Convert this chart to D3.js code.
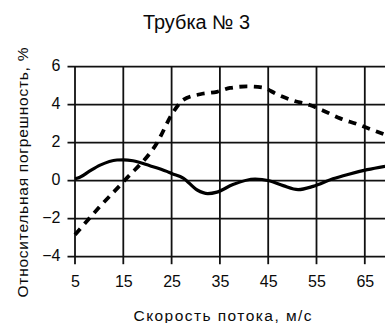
<!DOCTYPE html>
<html>
<head>
<meta charset="utf-8">
<script src="https://cdn.jsdelivr.net/npm/d3@7"></script>
<style>
  html, body { margin: 0; padding: 0; background: #fff; }
  svg { display: block; font-family: "Liberation Sans", Arial, sans-serif; }
</style>
</head>
<body>
<svg id="chart" width="385" height="323"></svg>
<script>
// Flow speed, m/s, and relative error, %, for two measurement runs
const solidSpeed = [5, 6, 8, 10.2, 13.7, 15, 17, 20.5, 24, 25, 27.4, 30.3, 32.5, 34.4, 37.7, 42.3, 45.2, 48.1, 51.2, 54.3, 58.4, 61.5, 65.5, 69.2];
const solidError = [0.1, 0.18, 0.5, 0.82, 1.09, 1.1, 1.05, 0.79, 0.49, 0.38, 0.14, -0.49, -0.68, -0.6, -0.2, 0.09, 0.0, -0.26, -0.47, -0.3, 0.1, 0.33, 0.58, 0.76];

const dashSpeed = [5, 10, 15.4, 22, 25.3, 27.4, 30.9, 34.4, 37.1, 40.6, 43.9, 46.8, 50.1, 53.6, 56.3, 59.9, 63.4, 66.5, 69.2];
const dashError = [-2.85, -1.4, 0.05, 2.0, 3.6, 4.25, 4.55, 4.68, 4.88, 4.96, 4.9, 4.55, 4.22, 3.98, 3.7, 3.28, 2.98, 2.68, 2.42];

const xTicks = [5, 15, 25, 35, 45, 55, 65];
const yTicks = [-4, -2, 0, 2, 4, 6];

const titleText = "Трубка № 3";
const xTitle = "Скорость потока, м/с";
const yTitle = "Относительная погрешность, %";

const svg = d3.select("#chart");
const plotLeft = 75, plotTop = 66.7, plotBottom = 256.7, plotRight = 385;
const tickLen = 7.5;
const textColor = "#0a0a0a";

const x = d3.scaleLinear().domain([5, 70]).range([plotLeft, plotLeft + 65 * 4.83]);
const y = d3.scaleLinear().domain([-4, 6]).range([plotBottom, plotTop]);

// grid lines with outward ticks
const grid = svg.append("g");
grid.selectAll("path.h").data(yTicks).join("path").attr("class", "h")
  .attr("d", d => `M${plotLeft - tickLen},${y(d)}L${plotRight},${y(d)}`)
  .attr("fill", "none").attr("stroke", "#111").attr("stroke-width", 1.8);
grid.selectAll("path.v").data(xTicks).join("path").attr("class", "v")
  .attr("d", d => `M${x(d)},${plotTop}L${x(d)},${plotBottom + tickLen}`)
  .attr("fill", "none").attr("stroke", "#111").attr("stroke-width", 1.8);

// tick labels via axes
const gy = svg.append("g")
  .attr("transform", `translate(${plotLeft - tickLen},0)`)
  .call(d3.axisLeft(y).tickValues(yTicks).tickSize(0).tickPadding(7));
gy.select(".domain").remove();
gy.selectAll(".tick line").remove();
gy.selectAll(".tick text")
  .attr("font-family", "Liberation Sans, Arial, sans-serif")
  .attr("font-size", 16).attr("fill", textColor).attr("dy", "0.25em");

const gx = svg.append("g")
  .attr("transform", `translate(0,${plotBottom + tickLen})`)
  .call(d3.axisBottom(x).tickValues(xTicks).tickSize(0).tickPadding(11.5));
gx.select(".domain").remove();
gx.selectAll(".tick line").remove();
gx.selectAll(".tick text")
  .attr("font-family", "Liberation Sans, Arial, sans-serif")
  .attr("font-size", 16).attr("fill", textColor).attr("dy", "0.71em");

// titles
svg.append("text").attr("x", 196.5).attr("y", 28.5)
  .attr("text-anchor", "middle").attr("font-size", 19.5).attr("fill", textColor)
  .attr("textLength", 107).attr("lengthAdjust", "spacingAndGlyphs")
  .text(titleText);
svg.append("text").attr("x", 222.5).attr("y", 320.5)
  .attr("text-anchor", "middle").attr("font-size", 15.5).attr("fill", textColor)
  .attr("textLength", 178).attr("lengthAdjust", "spacing")
  .text(xTitle);
svg.append("text").attr("transform", "translate(28,172.5) rotate(-90)")
  .attr("text-anchor", "middle").attr("font-size", 15.5).attr("fill", textColor)
  .attr("textLength", 250).attr("lengthAdjust", "spacing")
  .text(yTitle);

const line = d3.line().x(d => x(d[0])).y(d => y(d[1])).curve(d3.curveMonotoneX);

svg.append("path")
  .datum(solidSpeed.map((s, i) => [s, solidError[i]]))
  .attr("d", line).attr("fill", "none")
  .attr("stroke", "#000").attr("stroke-width", 3.2);

svg.append("path")
  .datum(dashSpeed.map((s, i) => [s, dashError[i]]))
  .attr("d", line).attr("fill", "none")
  .attr("stroke", "#000").attr("stroke-width", 3.8)
  .attr("stroke-dasharray", "8,6.5");
</script>
</body>
</html>
